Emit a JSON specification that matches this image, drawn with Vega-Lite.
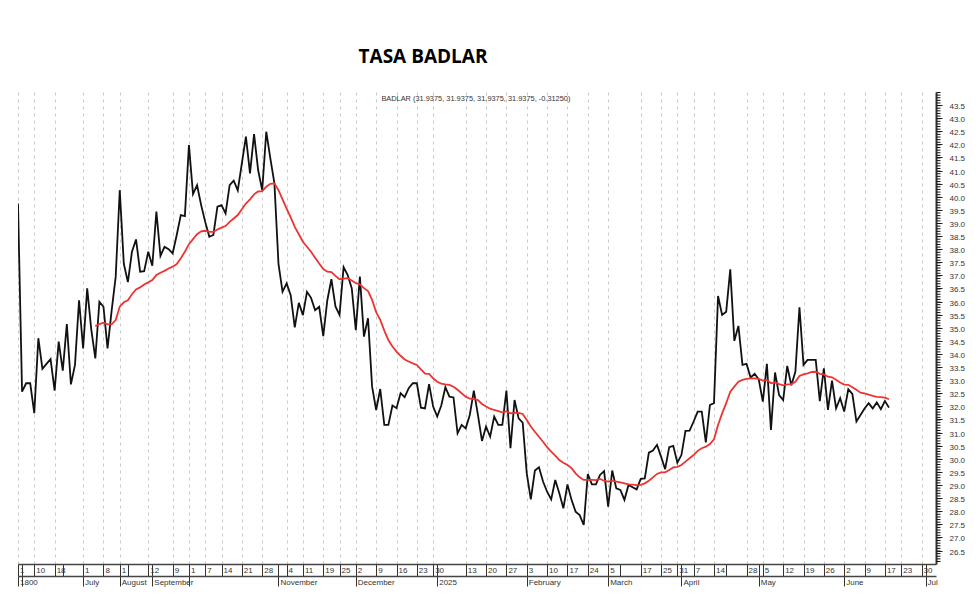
{
  "$schema": "https://vega.github.io/schema/vega-lite/v6.json",
  "autosize": "none",
  "width": 918,
  "height": 472,
  "padding": {"left": 18, "top": 92, "right": 44, "bottom": 39},
  "background": "white",
  "title": {
    "text": "TASA BADLAR",
    "font": "Open Sans",
    "fontWeight": 700,
    "fontSize": 19,
    "color": "#000000",
    "anchor": "middle",
    "dx": -54,
    "offset": 24
  },
  "datasets": {
    "series": [
      {"t":0,"badlar":39.8},{"t":1,"badlar":32.62},{"t":2,"badlar":32.94},{"t":3,"badlar":32.94},{"t":4,"badlar":31.8},
      {"t":5,"badlar":34.66},{"t":6,"badlar":33.49},{"t":7,"badlar":33.68},{"t":8,"badlar":33.86},{"t":9,"badlar":32.66},
      {"t":10,"badlar":34.53},{"t":11,"badlar":33.42},{"t":12,"badlar":35.2},{"t":13,"badlar":32.9},{"t":14,"badlar":33.64},
      {"t":15,"badlar":36.11},{"t":16,"badlar":34.27},{"t":17,"badlar":36.56},{"t":18,"badlar":35.0},
      {"t":19,"badlar":33.89,"media":35.12},{"t":20,"badlar":36.05,"media":35.2},{"t":21,"badlar":35.86,"media":35.25},
      {"t":22,"badlar":34.27,"media":35.19},{"t":23,"badlar":35.7,"media":35.19},{"t":24,"badlar":37.0,"media":35.35},
      {"t":25,"badlar":40.31,"media":35.86},{"t":26,"badlar":37.5,"media":36.03},{"t":27,"badlar":36.8,"media":36.11},
      {"t":28,"badlar":37.96,"media":36.34},{"t":29,"badlar":38.43,"media":36.52},{"t":30,"badlar":37.2,"media":36.6},
      {"t":31,"badlar":37.22,"media":36.71},{"t":32,"badlar":37.96,"media":36.79},{"t":33,"badlar":37.43,"media":36.88},
      {"t":34,"badlar":39.49,"media":37.07},{"t":35,"badlar":37.8,"media":37.16},{"t":36,"badlar":38.15,"media":37.23},
      {"t":37,"badlar":38.06,"media":37.32},{"t":38,"badlar":37.9,"media":37.39},{"t":39,"badlar":38.6,"media":37.49},
      {"t":40,"badlar":39.36,"media":37.71},{"t":41,"badlar":39.32,"media":37.96},{"t":42,"badlar":42.03,"media":38.25},
      {"t":43,"badlar":40.16,"media":38.44},{"t":44,"badlar":40.5,"media":38.63},{"t":45,"badlar":39.74,"media":38.74},
      {"t":46,"badlar":39.1,"media":38.76},{"t":47,"badlar":38.53,"media":38.72},{"t":48,"badlar":38.6,"media":38.72},
      {"t":49,"badlar":39.68,"media":38.81},{"t":50,"badlar":39.74,"media":38.88},{"t":51,"badlar":39.42,"media":38.94},
      {"t":52,"badlar":40.5,"media":39.1},{"t":53,"badlar":40.67,"media":39.23},{"t":54,"badlar":40.3,"media":39.36},
      {"t":55,"badlar":41.33,"media":39.58},{"t":56,"badlar":42.35,"media":39.8},{"t":57,"badlar":40.95,"media":39.96},
      {"t":58,"badlar":42.45,"media":40.15},{"t":59,"badlar":41.08,"media":40.26},{"t":60,"badlar":40.3,"media":40.27},
      {"t":61,"badlar":42.54,"media":40.44},{"t":62,"badlar":41.52,"media":40.55},{"t":63,"badlar":40.57,"media":40.57},
      {"t":64,"badlar":37.5,"media":40.31},{"t":65,"badlar":36.43,"media":39.96},{"t":66,"badlar":36.75,"media":39.61},
      {"t":67,"badlar":36.3,"media":39.27},{"t":68,"badlar":35.07,"media":38.91},{"t":69,"badlar":36.01,"media":38.63},
      {"t":70,"badlar":35.54,"media":38.34},{"t":71,"badlar":36.43,"media":38.15},{"t":72,"badlar":36.2,"media":37.96},
      {"t":73,"badlar":35.73,"media":37.73},{"t":74,"badlar":35.86,"media":37.51},{"t":75,"badlar":34.74,"media":37.3},
      {"t":76,"badlar":36.11,"media":37.2},{"t":77,"badlar":36.91,"media":37.18},{"t":78,"badlar":35.87,"media":37.04},
      {"t":79,"badlar":35.55,"media":36.91},{"t":80,"badlar":37.37,"media":36.93},{"t":81,"badlar":37.07,"media":36.95},
      {"t":82,"badlar":36.57,"media":36.86},{"t":83,"badlar":34.97,"media":36.76},{"t":84,"badlar":37.01,"media":36.72},
      {"t":85,"badlar":34.72,"media":36.57},{"t":86,"badlar":35.42,"media":36.46},{"t":87,"badlar":32.81,"media":36.12},
      {"t":88,"badlar":31.92,"media":35.65},{"t":89,"badlar":32.72,"media":35.36},{"t":90,"badlar":31.35,"media":34.95},
      {"t":91,"badlar":31.35,"media":34.59},{"t":92,"badlar":32.09,"media":34.34},{"t":93,"badlar":31.99,"media":34.15},
      {"t":94,"badlar":32.56,"media":33.99},{"t":95,"badlar":32.41,"media":33.85},{"t":96,"badlar":32.75,"media":33.77},
      {"t":97,"badlar":32.94,"media":33.7},{"t":98,"badlar":32.94,"media":33.64},{"t":99,"badlar":32.01,"media":33.47},
      {"t":100,"badlar":31.98,"media":33.31},{"t":101,"badlar":32.91,"media":33.3},{"t":102,"badlar":32.05,"media":33.13},
      {"t":103,"badlar":31.67,"media":33.0},{"t":104,"badlar":32.09,"media":32.93},{"t":105,"badlar":32.79,"media":32.9},
      {"t":106,"badlar":32.43,"media":32.88},{"t":107,"badlar":32.4,"media":32.81},{"t":108,"badlar":31.03,"media":32.69},
      {"t":109,"badlar":31.35,"media":32.56},{"t":110,"badlar":31.22,"media":32.43},{"t":111,"badlar":31.73,"media":32.35},
      {"t":112,"badlar":32.66,"media":32.34},{"t":113,"badlar":31.73,"media":32.3},{"t":114,"badlar":30.74,"media":32.15},
      {"t":115,"badlar":31.29,"media":32.05},{"t":116,"badlar":30.9,"media":31.97},{"t":117,"badlar":31.67,"media":31.92},
      {"t":118,"badlar":31.35,"media":31.88},{"t":119,"badlar":31.35,"media":31.83},{"t":120,"badlar":32.66,"media":31.87},
      {"t":121,"badlar":30.46,"media":31.79},{"t":122,"badlar":32.3,"media":31.82},{"t":123,"badlar":31.6,"media":31.81},
      {"t":124,"badlar":31.44,"media":31.77},{"t":125,"badlar":29.5,"media":31.54},{"t":126,"badlar":28.51,"media":31.29},
      {"t":127,"badlar":29.61,"media":31.09},{"t":128,"badlar":29.73,"media":30.9},{"t":129,"badlar":29.19,"media":30.71},
      {"t":130,"badlar":28.8,"media":30.5},{"t":131,"badlar":28.51,"media":30.33},{"t":132,"badlar":29.25,"media":30.18},
      {"t":133,"badlar":28.74,"media":30.01},{"t":134,"badlar":28.17,"media":29.91},{"t":135,"badlar":29.08,"media":29.82},
      {"t":136,"badlar":28.49,"media":29.7},{"t":137,"badlar":28.04,"media":29.5},{"t":138,"badlar":27.91,"media":29.35},
      {"t":139,"badlar":27.53,"media":29.25},{"t":140,"badlar":29.47,"media":29.25},{"t":141,"badlar":29.08,"media":29.25},
      {"t":142,"badlar":29.08,"media":29.24},{"t":143,"badlar":29.44,"media":29.29},{"t":144,"badlar":29.59,"media":29.22},
      {"t":145,"badlar":28.23,"media":29.19},{"t":146,"badlar":29.61,"media":29.22},{"t":147,"badlar":28.93,"media":29.19},
      {"t":148,"badlar":28.87,"media":29.16},{"t":149,"badlar":28.49,"media":29.12},{"t":150,"badlar":29.06,"media":29.08},
      {"t":151,"badlar":28.97,"media":29.07},{"t":152,"badlar":28.89,"media":29.05},{"t":153,"badlar":29.29,"media":29.06},
      {"t":154,"badlar":29.31,"media":29.12},{"t":155,"badlar":30.29,"media":29.22},{"t":156,"badlar":30.37,"media":29.35},
      {"t":157,"badlar":30.59,"media":29.48},{"t":158,"badlar":30.14,"media":29.54},{"t":159,"badlar":29.66,"media":29.54},
      {"t":160,"badlar":30.5,"media":29.63},{"t":161,"badlar":30.55,"media":29.73},{"t":162,"badlar":29.91,"media":29.75},
      {"t":163,"badlar":30.2,"media":29.82},{"t":164,"badlar":31.12,"media":29.95},{"t":165,"badlar":31.13,"media":30.08},
      {"t":166,"badlar":31.48,"media":30.2},{"t":167,"badlar":31.86,"media":30.36},{"t":168,"badlar":31.86,"media":30.46},
      {"t":169,"badlar":30.68,"media":30.52},{"t":170,"badlar":32.11,"media":30.62},{"t":171,"badlar":32.18,"media":30.8},
      {"t":172,"badlar":36.27,"media":31.35},{"t":173,"badlar":35.55,"media":31.79},{"t":174,"badlar":35.67,"media":32.18},
      {"t":175,"badlar":37.29,"media":32.62},{"t":176,"badlar":34.56,"media":32.81},{"t":177,"badlar":35.13,"media":33.0},
      {"t":178,"badlar":33.64,"media":33.07},{"t":179,"badlar":33.68,"media":33.11},{"t":180,"badlar":33.16,"media":33.13},
      {"t":181,"badlar":33.3,"media":33.13},{"t":182,"badlar":33.09,"media":33.11},{"t":183,"badlar":32.24,"media":33.04},
      {"t":184,"badlar":33.68,"media":33.07},{"t":185,"badlar":31.16,"media":32.94},{"t":186,"badlar":33.35,"media":32.97},
      {"t":187,"badlar":32.49,"media":32.91},{"t":188,"badlar":32.3,"media":32.86},{"t":189,"badlar":33.6,"media":32.9},
      {"t":190,"badlar":32.86,"media":32.91},{"t":191,"badlar":33.38,"media":33.0},{"t":192,"badlar":35.84,"media":33.22},
      {"t":193,"badlar":33.64,"media":33.28},{"t":194,"badlar":33.83,"media":33.32},{"t":195,"badlar":33.83,"media":33.37},
      {"t":196,"badlar":33.83,"media":33.38},{"t":197,"badlar":32.26,"media":33.3},{"t":198,"badlar":33.51,"media":33.28},
      {"t":199,"badlar":31.92,"media":33.19},{"t":200,"badlar":33.04,"media":33.17},{"t":201,"badlar":31.98,"media":33.07},
      {"t":202,"badlar":32.37,"media":32.97},{"t":203,"badlar":31.86,"media":32.89},{"t":204,"badlar":32.71,"media":32.88},
      {"t":205,"badlar":32.53,"media":32.79},{"t":206,"badlar":31.48,"media":32.69},{"t":207,"badlar":31.73,"media":32.58},
      {"t":208,"badlar":31.98,"media":32.55},{"t":209,"badlar":32.18,"media":32.51},{"t":210,"badlar":31.98,"media":32.46},
      {"t":211,"badlar":32.21,"media":32.42},{"t":212,"badlar":31.95,"media":32.41},{"t":213,"badlar":32.26,"media":32.39},
      {"t":214,"badlar":32.01,"media":32.33}
    ],
    "caption": [
      {"t": 112.5, "v": 43.79, "label": "BADLAR (31.9375, 31.9375, 31.9375, 31.9375, -0.31250)"}
    ]
  },
  "data": {"name": "series"},
  "layer": [
    {
      "mark": {"type": "line", "color": "#111111", "strokeWidth": 1.8, "clip": true},
      "encoding": {
        "x": {
          "field": "t",
          "type": "quantitative",
          "scale": {"domain": [0, 225.55], "nice": false, "zero": false},
          "axis": {
            "orient": "bottom",
            "title": null,
            "values": [0,1,4,9,11,16,21,25,27,32,33,38,42,46,50,55,60,64,66,70,75,79,83,88,93,98,102,103,110,115,120,125,130,135,140,145,148,153,158,162,163,166,171,174,179,182,183,188,193,198,203,208,213,217,222,223],
            "labelExpr": "{'0':'1','4':'10','9':'18','16':'1','21':'8','25':'1','32':'12','38':'9','42':'1','46':'7','50':'14','55':'21','60':'28','66':'4','70':'11','75':'19','79':'25','83':'2','88':'9','93':'16','98':'23','102':'30','110':'13','115':'20','120':'27','125':'3','130':'10','135':'17','140':'24','145':'5','153':'17','158':'25','162':'31','166':'7','171':'14','179':'28','183':'5','188':'12','193':'19','198':'26','203':'2','208':'9','213':'17','217':'23','222':'30'}[datum.value] || ''",
            "grid": true,
            "gridColor": "#c9c9c9",
            "gridDash": [3, 4],
            "gridWidth": 1,
            "gridOpacity": {
              "condition": {"test": "indexof([1,11,27,33,64,103,148,163,174,182,223], datum.value) >= 0", "value": 0},
              "value": 1
            },
            "domainColor": "#444444",
            "domainWidth": 1.4,
            "tickColor": "#333333",
            "tickSize": 12,
            "tickWidth": 1,
            "labelAlign": "left",
            "labelBaseline": "middle",
            "labelPadding": -6,
            "labelOffset": 1.5,
            "labelFlush": false,
            "labelOverlap": false,
            "labelBound": false,
            "labelFont": "Liberation Sans",
            "labelFontSize": 8,
            "labelColor": "#333333"
          }
        },
        "y": {
          "field": "badlar",
          "type": "quantitative",
          "scale": {"domain": [26.042, 44.057], "nice": false, "zero": false},
          "axis": {
            "orient": "right",
            "title": null,
            "values": [26.5,27,27.5,28,28.5,29,29.5,30,30.5,31,31.5,32,32.5,33,33.5,34,34.5,35,35.5,36,36.5,37,37.5,38,38.5,39,39.5,40,40.5,41,41.5,42,42.5,43,43.5],
            "format": ".1f",
            "grid": false,
            "domainColor": "#333333",
            "domainWidth": 2,
            "tickColor": "#222222",
            "tickSize": 6,
            "tickWidth": 1,
            "tickOffset": -1.5,
            "labelOffset": 1.5,
            "labelPadding": 7,
            "labelOverlap": false,
            "labelBound": false,
            "labelFlush": false,
            "labelFont": "Liberation Sans",
            "labelFontSize": 8,
            "labelColor": "#333333"
          }
        }
      }
    },
    {
      "mark": {"type": "line", "color": "#ee3333", "strokeWidth": 1.8, "clip": true},
      "encoding": {
        "x": {
          "field": "t",
          "type": "quantitative",
          "axis": {
            "orient": "bottom",
            "title": null,
            "offset": 12,
            "values": [0,1,16,25,33,42,64,83,103,125,145,163,182,203,223],
            "labelExpr": "{'0':'1800','16':'July','25':'August','33':'September','64':'November','83':'December','103':'2025','125':'February','145':'March','163':'April','182':'May','203':'June','223':'Jul'}[datum.value] || ''",
            "grid": false,
            "domainColor": "#444444",
            "domainWidth": 1.4,
            "tickColor": "#333333",
            "tickSize": 10,
            "tickWidth": 1,
            "labelAlign": "left",
            "labelBaseline": "middle",
            "labelPadding": -4,
            "labelOffset": 1.5,
            "labelFlush": false,
            "labelOverlap": false,
            "labelBound": false,
            "labelFont": "Liberation Sans",
            "labelFontSize": 8,
            "labelColor": "#333333"
          }
        },
        "y": {
          "field": "media",
          "type": "quantitative",
          "axis": {
            "orient": "right",
            "title": null,
            "values": [26.1,26.2,26.3,26.4,26.5,26.6,26.7,26.8,26.9,27,27.1,27.2,27.3,27.4,27.5,27.6,27.7,27.8,27.9,28,28.1,28.2,28.3,28.4,28.5,28.6,28.7,28.8,28.9,29,29.1,29.2,29.3,29.4,29.5,29.6,29.7,29.8,29.9,30,30.1,30.2,30.3,30.4,30.5,30.6,30.7,30.8,30.9,31,31.1,31.2,31.3,31.4,31.5,31.6,31.7,31.8,31.9,32,32.1,32.2,32.3,32.4,32.5,32.6,32.7,32.8,32.9,33,33.1,33.2,33.3,33.4,33.5,33.6,33.7,33.8,33.9,34,34.1,34.2,34.3,34.4,34.5,34.6,34.7,34.8,34.9,35,35.1,35.2,35.3,35.4,35.5,35.6,35.7,35.8,35.9,36,36.1,36.2,36.3,36.4,36.5,36.6,36.7,36.8,36.9,37,37.1,37.2,37.3,37.4,37.5,37.6,37.7,37.8,37.9,38,38.1,38.2,38.3,38.4,38.5,38.6,38.7,38.8,38.9,39,39.1,39.2,39.3,39.4,39.5,39.6,39.7,39.8,39.9,40,40.1,40.2,40.3,40.4,40.5,40.6,40.7,40.8,40.9,41,41.1,41.2,41.3,41.4,41.5,41.6,41.7,41.8,41.9,42,42.1,42.2,42.3,42.4,42.5,42.6,42.7,42.8,42.9,43,43.1,43.2,43.3,43.4,43.5,43.6,43.7,43.8,43.9,44],
            "labels": false,
            "labelOverlap": false,
            "grid": false,
            "domain": false,
            "tickColor": "#111111",
            "tickSize": 4,
            "tickWidth": 1,
            "tickRound": false,
            "tickOffset": -1.5
          }
        }
      }
    },
    {
      "data": {"name": "caption"},
      "mark": {"type": "text", "font": "Liberation Sans", "fontSize": 7.4, "color": "#333333", "align": "center", "baseline": "middle"},
      "encoding": {
        "x": {"field": "t", "type": "quantitative", "axis": null},
        "y": {"field": "v", "type": "quantitative", "axis": null},
        "text": {"field": "label"}
      }
    }
  ],
  "resolve": {"axis": {"x": "independent", "y": "independent"}},
  "config": {"view": {"stroke": null}}
}
